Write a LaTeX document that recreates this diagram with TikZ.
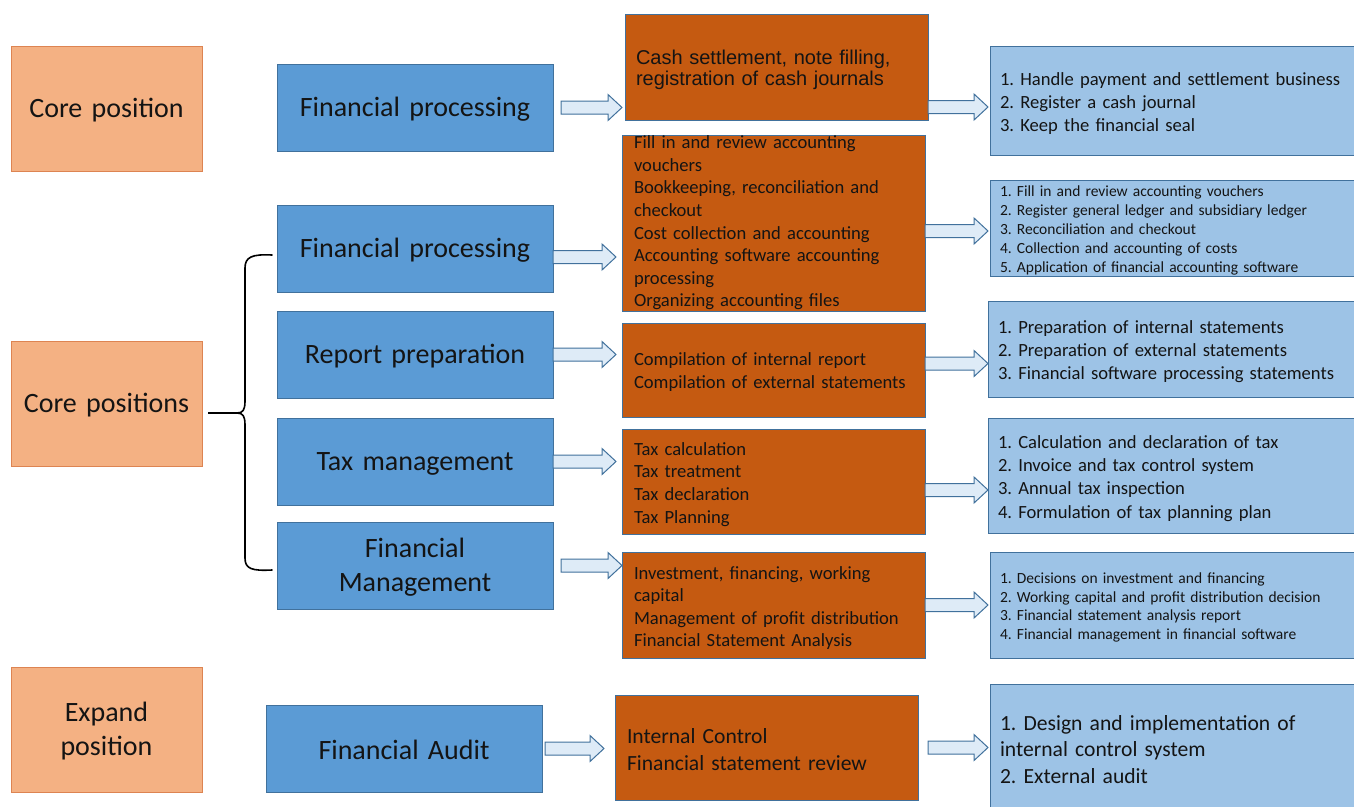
\documentclass[tikz,border=0pt]{standalone}
\usepackage{fontspec}
\setmainfont{Carlito}
\newfontfamily\arialfont{Liberation Sans}
\usetikzlibrary{calc}

\definecolor{catfill}{HTML}{F4B183}
\definecolor{catline}{HTML}{DD8452}
\definecolor{rolefill}{HTML}{5B9BD5}
\definecolor{boxline}{HTML}{41719C}
\definecolor{taskfill}{HTML}{C55A11}
\definecolor{dutyfill}{HTML}{9DC3E6}
\definecolor{arrowfill}{HTML}{DEEBF7}
\definecolor{inktext}{HTML}{141414}

\tikzset{
  boxbase/.style={anchor=north west, outer sep=0pt, inner ysep=0pt, text=inktext, line width=0.9pt},
  % a zero-width strut on the first line gives the text block some headroom
  headroom/.style={execute at begin node={\rule{0pt}{#1}}},
  headroom/.default=1em,
  catbox/.style={boxbase, headroom=0.82em, draw=catline, fill=catfill, inner xsep=0pt, text width=191pt,
    minimum height=125pt, align=center, font=\fontsize{28}{34}\selectfont},
  rolebox/.style={boxbase, headroom=0.82em, draw=boxline, fill=rolefill, inner xsep=0pt, text width=276pt,
    minimum height=87pt, align=center, font=\fontsize{28}{34}\selectfont},
  taskplain/.style={boxbase, draw=boxline, fill=taskfill, inner xsep=12pt, text width=279pt,
    align=left, font=\fontsize{18.6}{22.7}\selectfont},
  taskbox/.style={taskplain, headroom},
  dutybox/.style={boxbase, draw=boxline, fill=dutyfill, inner xsep=10pt, text width=362pt,
    align=left, font=\fontsize{18.6}{23}\selectfont},
  smalltext/.style={font=\fontsize{15.5}{18.9}\selectfont},
  bigtext/.style={font=\fontsize{21.6}{26.6}\selectfont},
  % hollow block arrow running horizontally at the height of its start point
  flowarrow/.style={draw=boxline, fill=arrowfill, line width=1pt, line join=miter,
    to path={let \p1=(\tikztostart), \p2=(\tikztotarget) in
      (\x1,\y1+6.5pt) -- (\x2-14pt,\y1+6.5pt) -- (\x2-14pt,\y1+13pt) -- (\x2,\y1)
      -- (\x2-14pt,\y1-13pt) -- (\x2-14pt,\y1-6.5pt) -- (\x1,\y1-6.5pt) -- cycle}},
  bracepath/.style={draw=black, line width=1.6pt, line cap=round, line join=round},
}

\begin{document}
\frenchspacing
\hyphenpenalty=10000
\exhyphenpenalty=10000
\begin{tikzpicture}[x=1pt, y=-1pt]
\useasboundingbox (0,0) rectangle (1354,806);
\clip (0,0) rectangle (1354,806);

% position categories
\node[catbox] (core) at (11,46) {Core position};
\node[catbox] (cores) at (11,341) {Core positions};
\node[catbox] (expand) at (11,667) {Expand\\position};

% job roles
\node[rolebox] (fp1) at (277,64) {Financial processing};
\node[rolebox] (fp2) at (277,205) {Financial processing};
\node[rolebox] (rp) at (277,311) {Report preparation};
\node[rolebox] (tm) at (277,418) {Tax management};
\node[rolebox] (fm) at (277,522) {Financial\\Management};
\node[rolebox] (fa) at (266,705) {Financial Audit};

% work contents
\node[taskbox, minimum height=106pt, inner xsep=11pt, text width=281pt,
      font=\arialfont\fontsize{20}{21}\selectfont] (b1) at (625,14)
  {Cash settlement, note filling,\\registration of cash journals};
\node[taskplain, minimum height=176pt, font=\fontsize{18.6}{22.6}\selectfont] (b2) at (622,135)
  {Fill in and review accounting\\vouchers\\Bookkeeping, reconciliation and\\checkout\\Cost collection and accounting\\Accounting software accounting\\processing\\Organizing accounting files};
\node[taskplain, headroom=0.9em, minimum height=94pt, font=\fontsize{18.6}{23.3}\selectfont] (b3) at (622,323)
  {Compilation of internal report\\Compilation of external statements};
\node[taskbox, minimum height=105pt] (b4) at (622,429)
  {Tax calculation\\Tax treatment\\Tax declaration\\Tax Planning};
\node[taskbox, minimum height=106pt, font=\fontsize{18.6}{22.4}\selectfont] (b5) at (622,552)
  {Investment, financing, working\\capital\\Management of profit distribution\\Financial Statement Analysis};
\node[taskplain, headroom=0.9em, minimum height=105pt, font=\fontsize{21.6}{27}\selectfont] (b6) at (615,695)
  {Internal Control\\Financial statement review};

% duties
\node[dutybox, headroom, minimum height=109pt] (l1) at (990,46)
  {1. Handle payment and settlement business\\2. Register a cash journal\\3. Keep the financial seal};
\node[dutybox, headroom, minimum height=96pt, smalltext] (l2) at (990,180)
  {1. Fill in and review accounting vouchers\\2. Register general ledger and subsidiary ledger\\3. Reconciliation and checkout\\4. Collection and accounting of costs\\5. Application of financial accounting software};
\node[dutybox, headroom, minimum height=96pt] (l3) at (988,301)
  {1. Preparation of internal statements\\2. Preparation of external statements\\3. Financial software processing statements};
\node[dutybox, headroom, minimum height=115pt, font=\fontsize{18.6}{23.3}\selectfont] (l4) at (988,418)
  {1. Calculation and declaration of tax\\2. Invoice and tax control system\\3. Annual tax inspection\\4. Formulation of tax planning plan};
\node[dutybox, headroom, minimum height=106pt, font=\fontsize{15.5}{18.7}\selectfont] (l5) at (990,552)
  {1. Decisions on investment and financing\\2. Working capital and profit distribution decision\\3. Financial statement analysis report\\4. Financial management in financial software};
\node[dutybox, headroom=0.9em, minimum height=126pt, bigtext] (l6) at (990,684)
  {1. Design and implementation of\\internal control system\\2. External audit};

% arrows: role -> work content
\path[flowarrow] ([xshift=8pt]fp1.east) to ([xshift=-3pt]b1.west);
\path[flowarrow] ([yshift=-8.5pt]fp2.east) to ([xshift=-6pt]b2.west);
\path[flowarrow] (rp.east) to ([xshift=-6pt]b3.west);
\path[flowarrow] (tm.east) to ([xshift=-6pt]b4.west);
\path[flowarrow] ([xshift=8pt]fm.east) to (b5.west);
\path[flowarrow] ([xshift=3pt]fa.east) to ([xshift=-11pt]b6.west);

% arrows: work content -> duties
\path[flowarrow] ([yshift=-40pt]b1.east) to ([xshift=-2pt]l1.west);
\path[flowarrow] ([yshift=-8pt]b2.east) to ([xshift=-2pt]l2.west);
\path[flowarrow] ([yshift=6.5pt]b3.east) to (l3.west);
\path[flowarrow] ([yshift=-8.5pt]b4.east) to (l4.west);
\path[flowarrow] (b5.east) to ([xshift=-2pt]l5.west);
\path[flowarrow] ([xshift=10pt]b6.east) to ([xshift=-2pt]l6.west);

% curly brace grouping the core roles
\coordinate (btop) at (272,255);
\coordinate (bbot) at (272,570);
\coordinate (btip) at (237,413);
\draw[bracepath] (btop) .. controls (252,254) and (245,257) .. (245,268) -- (245,401)
  .. controls (245,410) and (243,413) .. (btip)
  .. controls (243,413) and (245,416) .. (245,425) -- (245,558)
  .. controls (245,569) and (252,571) .. (bbot);
\draw[bracepath, line cap=butt, shorten >=6pt] (btip) -- (btip -| cores.east);
\end{tikzpicture}
\end{document}
